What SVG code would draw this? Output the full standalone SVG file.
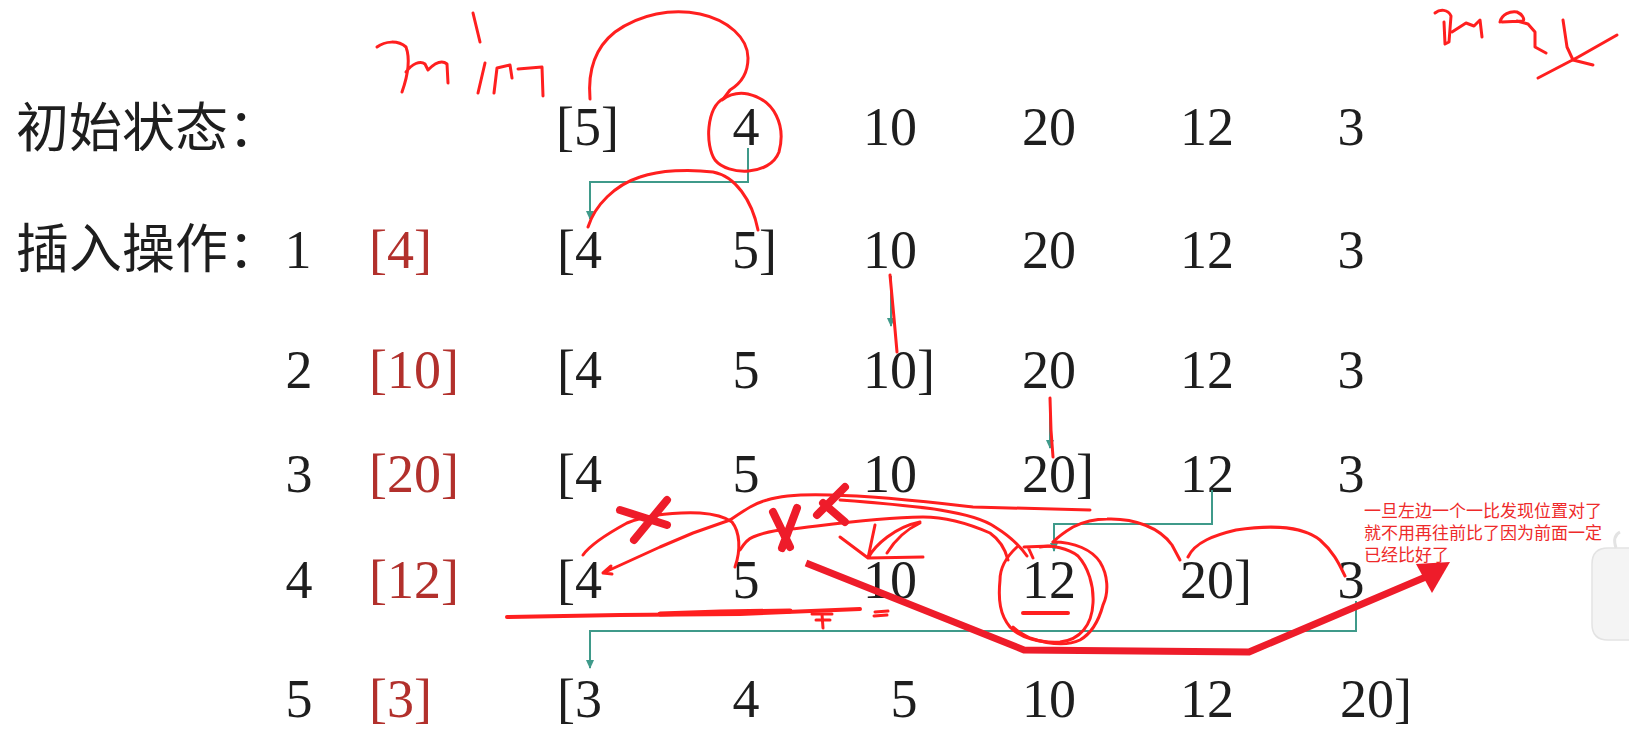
<svg xmlns="http://www.w3.org/2000/svg" width="1629" height="732" viewBox="0 0 1629 732">
<style>
.n{font-family:"Liberation Serif","DejaVu Serif",serif;font-size:54px;fill:#1e1e1e}
.m{text-anchor:middle}
.r{fill:#b2302c}
.cj{font-family:"Noto Sans CJK SC","Noto Sans",sans-serif;font-size:53px;fill:#1e1e1e}
.note{font-family:"Noto Sans CJK SC","Noto Sans",sans-serif;font-size:17px;fill:#ee2a2a}
.t{fill:none;stroke:#3f9a8a;stroke-width:2}
.h{fill:none;stroke:#ff1f1f;stroke-width:3;stroke-linecap:round;stroke-linejoin:round}
.hx{fill:none;stroke:#ee1c2a;stroke-width:8;stroke-linecap:round}
</style>
<defs>
<marker id="ta" markerWidth="9" markerHeight="8" refX="8" refY="4" orient="auto" markerUnits="userSpaceOnUse" viewBox="0 0 9 8">
<path d="M0,0 L9,4 L0,8 Z" fill="#3f9a8a"/>
</marker>
</defs>
<rect width="1629" height="732" fill="#ffffff"/>
<g id="labels">
<text class="cj" x="16" y="147">初始状态：</text>
<text class="cj" x="16" y="268">插入操作：</text>
</g>
<g id="row0">
<text class="n" x="556" y="145">[5]</text>
<text class="n m" x="746" y="145">4</text>
<text class="n m" x="890" y="145">10</text>
<text class="n m" x="1049" y="145">20</text>
<text class="n m" x="1207" y="145">12</text>
<text class="n m" x="1351" y="145">3</text>
</g>
<g id="row1">
<text class="n m" x="298" y="268">1</text>
<text class="n r" x="369" y="268">[4]</text>
<text class="n" x="557" y="268">[4</text>
<text class="n" x="732" y="268">5]</text>
<text class="n m" x="890" y="268">10</text>
<text class="n m" x="1049" y="268">20</text>
<text class="n m" x="1207" y="268">12</text>
<text class="n m" x="1351" y="268">3</text>
</g>
<g id="row2">
<text class="n m" x="299" y="388">2</text>
<text class="n r" x="369" y="388">[10]</text>
<text class="n" x="557" y="388">[4</text>
<text class="n m" x="746" y="388">5</text>
<text class="n" x="863" y="388">10]</text>
<text class="n m" x="1049" y="388">20</text>
<text class="n m" x="1207" y="388">12</text>
<text class="n m" x="1351" y="388">3</text>
</g>
<g id="row3">
<text class="n m" x="299" y="492">3</text>
<text class="n r" x="369" y="492">[20]</text>
<text class="n" x="557" y="492">[4</text>
<text class="n m" x="746" y="492">5</text>
<text class="n m" x="890" y="492">10</text>
<text class="n" x="1022" y="492">20]</text>
<text class="n m" x="1207" y="492">12</text>
<text class="n m" x="1351" y="492">3</text>
</g>
<g id="row4">
<text class="n m" x="299" y="598">4</text>
<text class="n r" x="369" y="598">[12]</text>
<text class="n" x="557" y="598">[4</text>
<text class="n m" x="746" y="598">5</text>
<text class="n m" x="890" y="598">10</text>
<text class="n m" x="1049" y="598">12</text>
<text class="n" x="1180" y="598">20]</text>
<text class="n m" x="1351" y="598">3</text>
</g>
<g id="row5">
<text class="n m" x="299" y="717">5</text>
<text class="n r" x="369" y="717">[3]</text>
<text class="n" x="557" y="717">[3</text>
<text class="n m" x="746" y="717">4</text>
<text class="n m" x="904" y="717">5</text>
<text class="n m" x="1049" y="717">10</text>
<text class="n m" x="1207" y="717">12</text>
<text class="n" x="1340" y="717">20]</text>
</g>
<g id="connectors">
<path class="t" d="M748,148 V182 H590 V219" marker-end="url(#ta)"/>
<path class="t" d="M891,276 V326" marker-end="url(#ta)"/>
<path class="t" d="M1050,398 V448" marker-end="url(#ta)"/>
<path class="t" d="M1212,490 V524 H1054 V551" marker-end="url(#ta)"/>
<path class="t" d="M1356,601 V631 H590 V668" marker-end="url(#ta)"/>
</g>
<g id="handwriting">
<path class="h" d="M377,47 C385,41 398,40 406,47 C410,58 408,75 402,92 M406,72 C412,64 420,60 425,64 L428,70 C436,62 442,60 447,64 L448,83"/>
<path class="h" d="M473,13 L480,42 M485,63 L478,93"/>
<path class="h" d="M494,93 L497,68 L510,65 L512,78 M518,69 L542,67 L543,96"/>
<path class="h" d="M590,99 C588,75 592,50 615,32 C640,14 672,8 700,14 C728,20 748,38 748,58 C748,75 740,84 730,90 L724,98"/>
<path class="h" d="M724,98 C706,108 705,145 715,160 C728,176 770,176 779,152 C786,126 775,100 748,94 C738,92 730,94 722,100"/>
<path class="h" d="M588,227 C595,205 615,185 640,177 C660,170 690,169 713,172 C735,176 752,200 758,230"/>
<path class="h" d="M890,275 L894,318 L897,352"/>
<path class="h" d="M1050,398 L1051,430 L1053,457"/>
<path class="h" d="M583,555 C590,545 605,535 627,523 C645,516 670,512 700,513 C715,514 725,517 732,522 C740,532 741,550 735,567"/>
<path class="h" d="M603,573 L660,547 L693,533 L730,520 M603,573 L611,566 M603,573 L612,574"/>
<path class="h" d="M730,520 C745,510 755,503 767,500 C780,496 800,494 830,495 C880,496 930,502 973,507 L1090,510"/>
<path class="h" d="M840,500 C880,503 915,506 940,510 C965,514 985,520 995,527 C1008,535 1020,546 1027,556"/>
<path class="h" d="M740,550 C745,542 750,538 753,537 C765,532 775,530 790,529 C820,526 870,518 923,517 C945,517 965,522 990,533 C1000,540 1005,548 1008,560"/>
<path class="h" d="M840,537 L868,558 L875,525 M868,558 C875,545 895,527 920,522 M887,553 C895,540 905,530 920,523 M868,558 L923,557"/>
<path class="h" d="M1017,547 C1005,558 1000,570 1000,580 C998,600 1000,615 1010,627 C1020,638 1040,643 1060,642 C1080,640 1092,625 1093,603 C1094,585 1088,567 1078,556 C1068,548 1052,545 1040,547"/>
<path class="h" d="M1053,542 C1075,542 1092,550 1100,562 C1108,575 1109,592 1103,605 C1099,620 1092,633 1080,640 C1065,647 1045,643 1030,638 C1022,634 1016,630 1013,627"/>
<path class="h" d="M1024,547 L1050,546 M1028,547 L1033,558"/>
<path class="h" style="stroke-width:4" d="M1023,613 L1068,613"/>
<path class="h" d="M1053,542 C1060,535 1068,530 1073,527 C1085,521 1097,519 1107,519 C1135,518 1160,528 1172,545 L1180,560"/>
<path class="h" d="M1188,557 C1195,542 1215,535 1236,530 C1262,526 1300,524 1320,540 C1334,552 1340,566 1345,576"/>
<path class="h" style="stroke-width:4" d="M507,617 L620,615 L740,614 L860,609"/>
<path class="h" style="stroke-width:5" d="M660,614 L720,612 L790,611"/>
<path class="h" d="M812,614 L832,614 M822,614 L823,628 M816,620 L830,620 M875,612 L888,611 M874,616 L887,615"/>
<path class="hx" d="M620,510 L667,525 M667,500 L634,540"/>
<path class="hx" d="M773,512 L790,547 M797,508 L782,548"/>
<path class="hx" d="M845,487 L817,515 M823,503 L845,522"/>
<path class="h" d="M1435,13 C1440,9 1448,9 1451,16 L1449,42 L1445,44 L1444,22 M1452,32 L1466,23 L1474,26 L1480,20 L1482,37"/>
<path class="h" d="M1500,22 C1502,14 1510,11 1517,12 C1522,14 1525,19 1523,21 L1502,22 M1517,21 L1528,24 L1535,32 L1535,47 L1546,53"/>
<path class="h" d="M1563,20 L1567,47 L1573,60 L1593,65 M1617,35 C1595,48 1570,62 1538,78"/>
<path fill="none" stroke="#ee1c2a" stroke-width="7" stroke-linejoin="round" d="M806,563 L1024,650 L1249,652 L1428,576"/>
<path fill="#ee1c2a" d="M1450,562 L1416,564 L1432,593 Z"/>
</g>
<g id="note">
<text class="note" x="1364" y="517">一旦左边一个一比发现位置对了</text>
<text class="note" x="1364" y="539">就不用再往前比了因为前面一定</text>
<text class="note" x="1364" y="561">已经比好了</text>
</g>
<g id="edge-widget">
<path d="M1629,548 L1608,548 Q1592,548 1592,564 L1592,624 Q1592,640 1608,640 L1629,640" fill="#f4f4f4" stroke="#e3e3e3" stroke-width="1.5"/>
<path d="M1616,548 Q1612,536 1620,532" fill="none" stroke="#e3e3e3" stroke-width="3"/>
</g>
</svg>
